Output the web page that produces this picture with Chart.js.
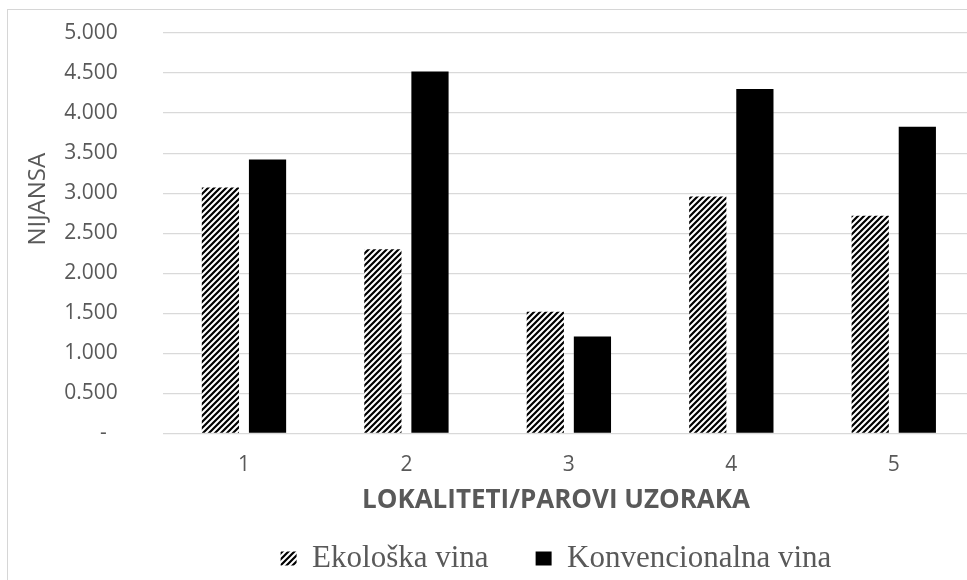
<!DOCTYPE html>
<html>
<head>
<meta charset="utf-8">
<script src="https://cdn.jsdelivr.net/npm/chart.js@4/dist/chart.umd.min.js"></script>
<style>
  html, body { margin: 0; padding: 0; background: #fff; overflow: hidden; width: 967px; height: 580px; }
  #frame { position: absolute; left: 7px; top: 9px; width: 2000px; height: 2000px; border: 1px solid #d6d6d6; }
  #wrap { position: absolute; left: 0; top: 0; width: 1112px; height: 584px; }
</style>
</head>
<body>
<div id="frame"></div>
<div id="wrap"><canvas id="c"></canvas></div>
<script>
const categories = ['1', '2', '3', '4', '5'];
const ekoloskaVina = [3.07, 2.30, 1.52, 2.96, 2.72];
const konvencionalnaVina = [3.42, 4.52, 1.21, 4.30, 3.83];
const seriesNames = ['Ekološka vina', 'Konvencionalna vina'];
const yTickLabels = ['-', '0.500', '1.000', '1.500', '2.000', '2.500', '3.000', '3.500', '4.000', '4.500', '5.000'];
const yAxisTitle = 'NIJANSA';
const xAxisTitle = 'LOKALITETI/PAROVI UZORAKA';

function makeHatch() {
  const s = 6;
  const c = document.createElement('canvas');
  c.width = s; c.height = s;
  const g = c.getContext('2d');
  g.fillStyle = '#ffffff';
  g.fillRect(0, 0, s, s);
  g.strokeStyle = '#000000';
  g.lineWidth = 2.2;
  g.beginPath();
  g.moveTo(-1, s + 1); g.lineTo(s + 1, -1);
  g.moveTo(-2, 2); g.lineTo(2, -2);
  g.moveTo(s - 2, s + 2); g.lineTo(s + 2, s - 2);
  g.stroke();
  return document.getElementById('c').getContext('2d').createPattern(c, 'repeat');
}
const hatch = makeHatch();

const yTitlePlugin = {
  id: 'yTitle',
  afterDraw(chart) {
    const { ctx, chartArea } = chart;
    ctx.save();
    ctx.font = '24px "Open Sans"';
    ctx.fillStyle = '#595959';
    ctx.textAlign = 'center';
    ctx.textBaseline = 'middle';
    ctx.translate(38, chartArea.top + chartArea.height * 0.415);
    ctx.rotate(-Math.PI / 2);
    ctx.fillText(yAxisTitle, 0, 0);
    ctx.restore();
  }
};

new Chart(document.getElementById('c'), {
  type: 'bar',
  data: {
    labels: categories,
    datasets: [
      { label: seriesNames[0], data: ekoloskaVina, backgroundColor: hatch, borderWidth: 0 },
      { label: seriesNames[1], data: konvencionalnaVina, backgroundColor: '#000000', borderWidth: 0 }
    ]
  },
  options: {
    responsive: true,
    maintainAspectRatio: false,
    animation: false,
    layout: { padding: { top: 33, left: 0, right: 0, bottom: 0 } },
    datasets: { bar: { categoryPercentage: 0.58, barPercentage: 0.79 } },
    scales: {
      x: {
        grid: { display: false, drawTicks: false },
        border: { display: false },
        ticks: { color: '#595959', font: { family: '"Open Sans"', size: 21 }, padding: 19 },
        afterFit(scale) { scale.height = 43; }
      },
      y: {
        min: 0, max: 5,
        grid: { color: '#d9d9d9', lineWidth: 1.3, drawTicks: false },
        border: { display: false },
        ticks: {
          stepSize: 0.5,
          color: '#595959',
          font: { family: '"Open Sans"', size: 21 },
          padding: 45,
          callback: (v, i) => i === 0 ? yTickLabels[i] + '  ' : yTickLabels[i]
        },
        afterFit(scale) {
          scale.width = 162.75;
          scale.paddingTop = 0;
          scale.paddingBottom = 0;
        }
      },
      yRightSpace: {
        type: 'linear',
        position: 'right',
        display: true,
        grid: { display: false, drawTicks: false },
        border: { display: false },
        ticks: { display: false },
        afterFit(scale) { scale.width = 137; }
      }
    },
    plugins: {
      tooltip: { enabled: false },
      title: {
        display: true,
        text: xAxisTitle,
        position: 'bottom',
        weight: 500,
        color: '#595959',
        font: { family: '"Open Sans"', size: 26, weight: 'bold', lineHeight: 1.2 },
        padding: { top: 8, bottom: -19.7 }
      },
      legend: {
        position: 'bottom',
        weight: 1000,
        labels: {
          boxWidth: 16,
          boxHeight: 14,
          padding: 47,
          color: '#595959',
          font: { family: '"Liberation Serif"', size: 31 }
        }
      }
    }
  },
  plugins: [yTitlePlugin]
});
</script>
</body>
</html>
